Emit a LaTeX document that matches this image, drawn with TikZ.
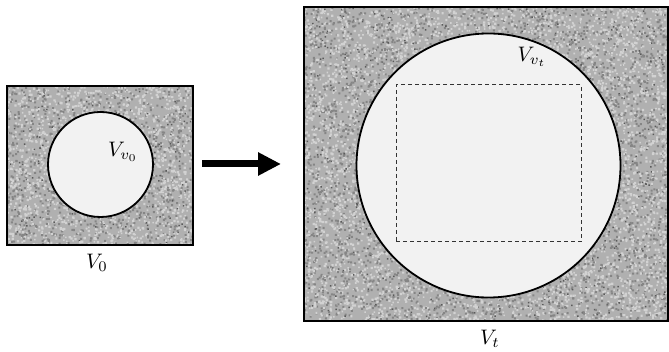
\documentclass[tikz,border=0pt]{standalone}
\usetikzlibrary{arrows.meta}
\definecolor{texbase}{HTML}{B0B0B0}
\definecolor{texdark}{HTML}{858585}
\definecolor{texdeep}{HTML}{5A5A5A}
\definecolor{texlight}{HTML}{D2D2D2}
\definecolor{voidfill}{HTML}{F2F2F2}
\tikzset{
  boxline/.style={draw=black, line width=1.5pt},
  voidcircle/.style={circle, draw=black, line width=1.8pt, fill=voidfill, inner sep=0pt},
  lbl/.style={inner sep=0pt, scale=2.1},
  dashbox/.style={draw=black!80, line width=1pt, dash pattern=on 4pt off 3pt},
  bigarrow/.style={line width=7pt, -{Triangle[length=23pt,width=22pt]}}
}
\newcommand{\speckle}[5]{% x0 y0 w h chunks(of 150)
  \foreach \k in {1,...,#5} {
    \fill[texdark] \foreach \i in {1,...,150} {(#1+#3*rnd,#2+#4*rnd) rectangle +(2,2)};
    \fill[texlight] \foreach \i in {1,...,150} {(#1+#3*rnd,#2+#4*rnd) rectangle +(2.2,2.2)};
    \fill[texlight] \foreach \i in {1,...,100} {(#1+#3*rnd,#2+#4*rnd) rectangle +(1.6,1.6)};
    \fill[texdeep] \foreach \i in {1,...,25} {(#1+#3*rnd,#2+#4*rnd) rectangle +(1.5,1.5)};
  }}
\begin{document}
\begin{tikzpicture}[x=1pt,y=-1pt]
\useasboundingbox (0,0) rectangle (669,352);
\pgfmathsetseed{11}
% left block
\begin{scope}
  \clip (7,86) rectangle (193,245);
  \fill[texbase] (7,86) rectangle (193,245);
  \speckle{5}{84}{190}{163}{7}
\end{scope}
\node[boxline, minimum width=186pt, minimum height=159pt, inner sep=0pt] (box0) at (100,165.5) {};
\node[voidcircle, minimum size=105pt] (c0) at (100.5,164.5) {};
\node[lbl] (lv0) at (123,152) {$V_{v_0}$};
\node[lbl] (l0) at (97,263) {$V_0$};
% right block
\begin{scope}
  \clip (304,7) rectangle (669,321);
  \fill[texbase] (304,7) rectangle (669,321);
  \speckle{302}{5}{369}{318}{26}
\end{scope}
\node[boxline, minimum width=364pt, minimum height=314pt, inner sep=0pt] (box1) at (486,164) {};
\node[voidcircle, minimum size=264pt] (c1) at (488.5,165.5) {};
\node[dashbox, minimum width=185pt, minimum height=157pt, inner sep=0pt] (sq) at (488.5,163.5) {};
\node[lbl] (lvt) at (532,57) {$V_{v_t}$};
\node[lbl] (lt) at (490,339) {$V_t$};
% arrow
\coordinate (as) at (202,164);
\coordinate (ae) at (281,164);
\draw[bigarrow] (as) -- (ae);
\end{tikzpicture}
\end{document}
